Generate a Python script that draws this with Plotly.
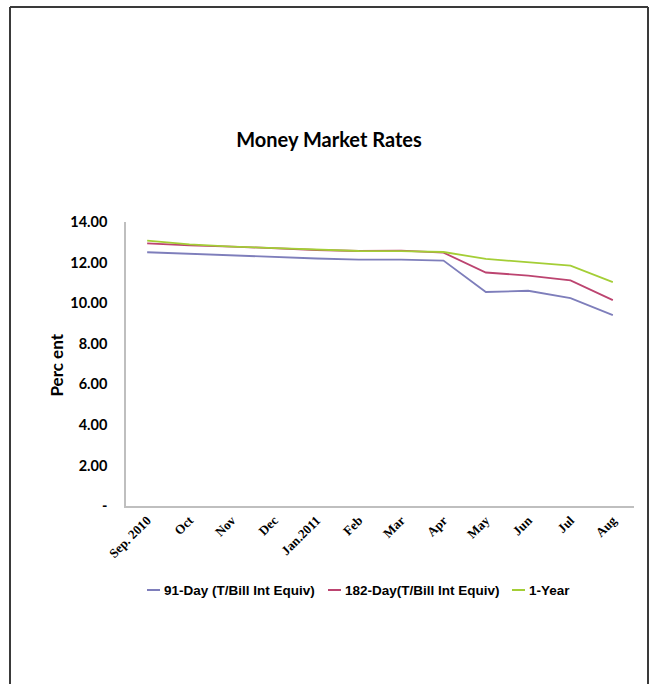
import plotly.graph_objects as go

# Datos
months = ["Sep. 2010", "Oct", "Nov", "Dec", "Jan.2011", "Feb",
          "Mar", "Apr", "May", "Jun", "Jul", "Aug"]
day91 = [12.51, 12.43, 12.38, 12.29, 12.20, 12.15, 12.15, 12.10, 10.55, 10.61, 10.25, 9.41]
day182 = [12.95, 12.85, 12.79, 12.70, 12.62, 12.57, 12.59, 12.49, 11.51, 11.36, 11.12, 10.15]
year1 = [13.08, 12.90, 12.79, 12.72, 12.66, 12.57, 12.56, 12.52, 12.18, 12.00, 11.85, 11.04]
y_ticks = [0, 2, 4, 6, 8, 10, 12, 14]
y_tick_text = ["-", "2.00", "4.00", "6.00", "8.00", "10.00", "12.00", "14.00"]

series = [
    ("91-Day (T/Bill Int Equiv)", day91, "#7E7EBB"),
    ("182-Day(T/Bill Int Equiv)", day182, "#BC4470"),
    ("1-Year", year1, "#A4CE36"),
]

W, H = 650, 684
L, R, T, B = 126, 634, 222, 506   # caja del área de trazado, en píxeles


def px_x(p):
    return (p - L) / (R - L)


def px_y(p):
    return (B - p) / (B - T)


fig = go.Figure()
for name, vals, color in series:
    fig.add_trace(go.Scatter(
        x=months, y=vals, name=name, mode="lines",
        line=dict(color=color, width=1.8),
    ))

fig.update_layout(
    width=W, height=H,
    margin=dict(l=L, r=W - R, t=T, b=H - B),
    paper_bgcolor="white", plot_bgcolor="white",
    title=dict(
        text="<b>Money Market Rates</b>",
        x=329 / W, xanchor="center", y=1 - 140 / H, yanchor="middle",
        font=dict(family="Lato", size=20, color="black"),
    ),
    showlegend=False,
)

fig.update_xaxes(
    type="category", range=[-0.5, 11.5],
    showline=True, linecolor="#BFBFBF", linewidth=1.5,
    showgrid=False, ticks="", tickangle=-45,
    tickfont=dict(family="Liberation Serif", size=13, color="black", weight="bold"),
)
fig.update_yaxes(
    range=[0, 14], tickvals=y_ticks, ticktext=y_tick_text,
    showline=True, linecolor="#BFBFBF", linewidth=1.5,
    showgrid=False, ticks="", zeroline=False, ticklabelstandoff=14,
    tickfont=dict(family="Lato", size=14.5, color="black", weight="bold"),
)

# Título del eje Y
fig.add_annotation(
    x=px_x(43), y=px_y(365), xref="paper", yref="paper",
    text="<b>Perc ent</b>", textangle=-90, showarrow=False,
    font=dict(family="Lato", size=17, color="black"),
)

# Leyenda a mano (líneas cortas como en Excel)
legend_x = [147, 328, 512]
ly = px_y(590)
for (name, vals, color), lx in zip(series, legend_x):
    fig.add_shape(
        type="line", xref="paper", yref="paper",
        x0=px_x(lx), x1=px_x(lx + 13), y0=ly, y1=ly,
        line=dict(color=color, width=2),
    )
    fig.add_annotation(
        x=px_x(lx + 15), y=ly, xref="paper", yref="paper",
        xanchor="left", yanchor="middle", text=name, showarrow=False,
        font=dict(family="Liberation Sans", size=13.5, color="black", weight="bold"),
    )

# Marco exterior: dos rectas verticales y una horizontal
for x0, y0, x1, y1 in [(10, 7, 10, 700), (648, 7, 648, 700), (10, 7, 648, 7)]:
    fig.add_shape(
        type="line", xref="paper", yref="paper",
        x0=px_x(x0), x1=px_x(x1), y0=px_y(y0), y1=px_y(y1),
        line=dict(color="#3A3A3A", width=2),
    )

fig.write_html(
    "out.html",
    config={"displayModeBar": False},
    post_script="document.body.style.margin='0';document.body.style.overflow='hidden';",
)
